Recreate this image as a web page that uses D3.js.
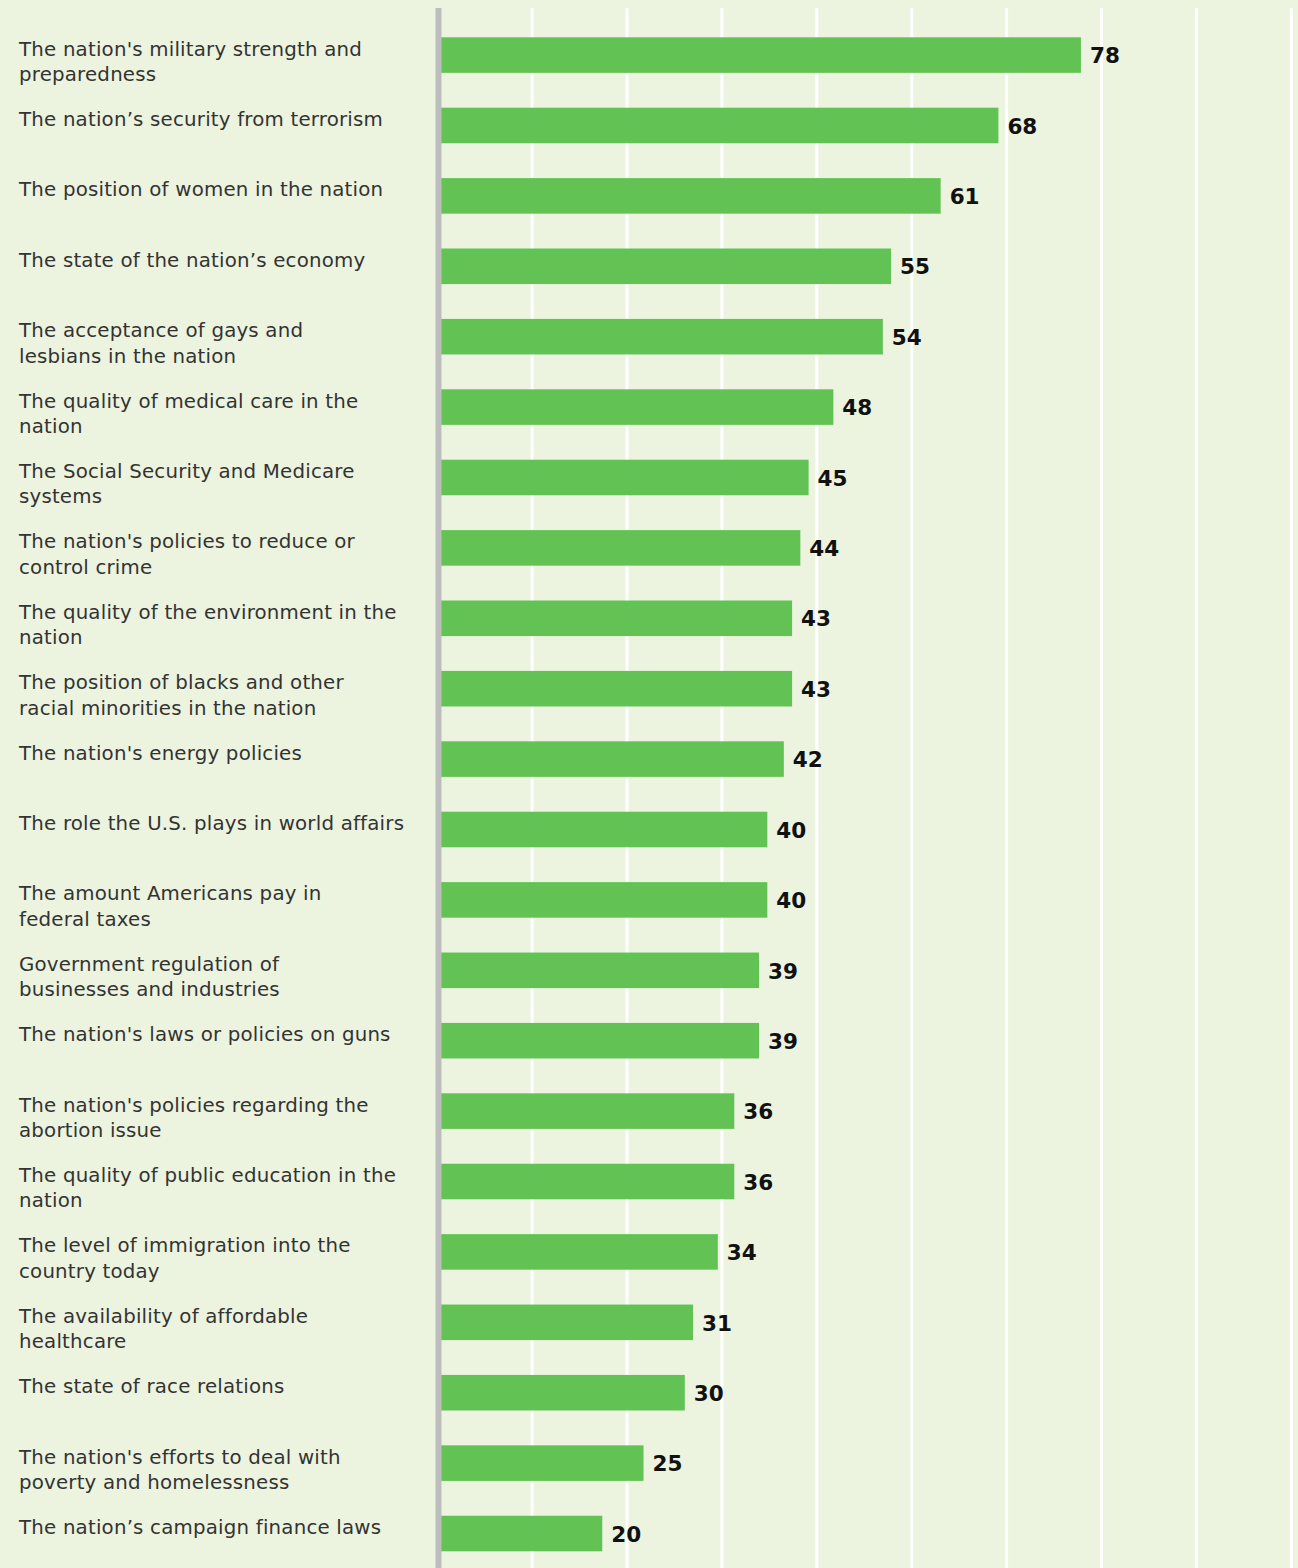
<!DOCTYPE html>
<html>
<head>
<meta charset="utf-8">
<script src="https://cdn.jsdelivr.net/npm/d3@7"></script>
<style>
  html, body { margin: 0; padding: 0; background: #ecf3df; }
  svg { display: block; }
</style>
</head>
<body>
<svg id="chart" width="1298" height="1568"></svg>
<script>
// Issues, top to bottom (line breaks mark where each label wraps)
const categories = [
  "The nation's military strength and\npreparedness",
  "The nation’s security from terrorism",
  "The position of women in the nation",
  "The state of the nation’s economy",
  "The acceptance of gays and\nlesbians in the nation",
  "The quality of medical care in the\nnation",
  "The Social Security and Medicare\nsystems",
  "The nation's policies to reduce or\ncontrol crime",
  "The quality of the environment in the\nnation",
  "The position of blacks and other\nracial minorities in the nation",
  "The nation's energy policies",
  "The role the U.S. plays in world affairs",
  "The amount Americans pay in\nfederal taxes",
  "Government regulation of\nbusinesses and industries",
  "The nation's laws or policies on guns",
  "The nation's policies regarding the\nabortion issue",
  "The quality of public education in the\nnation",
  "The level of immigration into the\ncountry today",
  "The availability of affordable\nhealthcare",
  "The state of race relations",
  "The nation's efforts to deal with\npoverty and homelessness",
  "The nation’s campaign finance laws"
];
const values = [78, 68, 61, 55, 54, 48, 45, 44, 43, 43, 42, 40, 40, 39, 39, 36, 36, 34, 31, 30, 25, 20];
const gridTicks = [11.5, 23, 34.5, 46, 57.5, 69, 80.5, 92, 103.5];

const W = 1298, H = 1568;
const svg = d3.select("#chart");

svg.append("rect").attr("width", W).attr("height", H).attr("fill", "#ecf3df");

const x = d3.scaleLinear().domain([0, 103.5]).range([437.2, 1291.4]);
const y = d3.scaleBand()
  .domain(categories)
  .range([37.3, 1551.3])
  .paddingInner(0.495)
  .paddingOuter(0);

// white vertical gridlines
svg.append("g")
  .selectAll("line")
  .data(gridTicks)
  .join("line")
  .attr("x1", d => x(d)).attr("x2", d => x(d))
  .attr("y1", 8).attr("y2", H)
  .attr("stroke", "#ffffff")
  .attr("stroke-width", 3);

// bars
svg.append("g")
  .selectAll("rect")
  .data(values)
  .join("rect")
  .attr("x", x(0))
  .attr("y", (d, i) => y(categories[i]))
  .attr("width", d => x(d) - x(0))
  .attr("height", y.bandwidth())
  .attr("fill", "#62c354");

// baseline axis
svg.append("line")
  .attr("x1", x(0) + 1.3).attr("x2", x(0) + 1.3)
  .attr("y1", 8).attr("y2", H)
  .attr("stroke", "#bdbdbd")
  .attr("stroke-width", 6);

// value labels
svg.append("g")
  .selectAll("text")
  .data(values)
  .join("text")
  .attr("x", d => x(d) + 9)
  .attr("y", (d, i) => y(categories[i]) + y.bandwidth() / 2 + 8.2)
  .attr("font-family", "'DejaVu Sans', sans-serif")
  .attr("font-weight", 700)
  .attr("font-size", 21.5)
  .attr("fill", "#111")
  .text(d => d);

// category labels, top-aligned with each bar
const labels = svg.append("g")
  .selectAll("text")
  .data(categories)
  .join("text")
  .attr("x", 19)
  .attr("y", d => y(d) + 18.3)
  .attr("font-family", "'DejaVu Sans', sans-serif")
  .attr("font-size", 19.8)
  .attr("letter-spacing", 0.2)
  .attr("fill", "#333");

labels.selectAll("tspan")
  .data(d => d.split("\n"))
  .join("tspan")
  .attr("x", 19)
  .attr("dy", (d, i) => i === 0 ? 0 : 25.4)
  .text(d => d);
</script>
</body>
</html>
